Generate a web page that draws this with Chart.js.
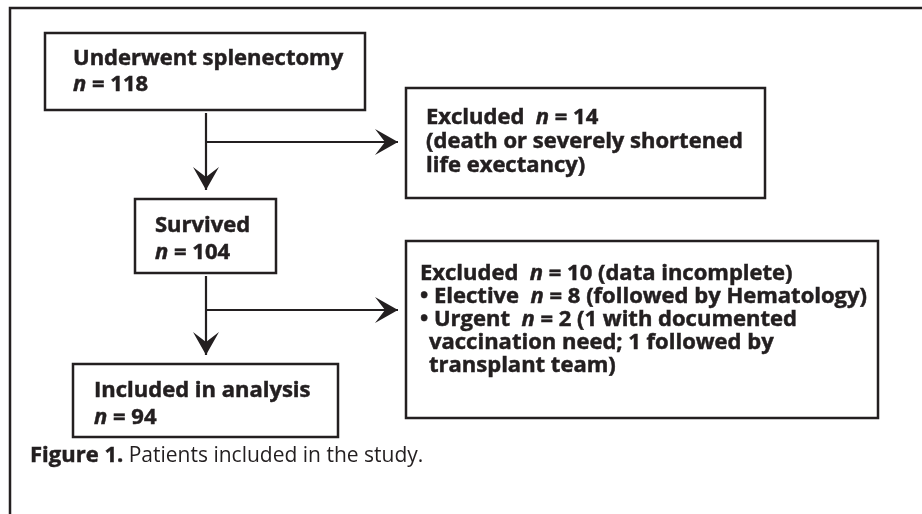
<!DOCTYPE html>
<html>
<head>
<meta charset="utf-8">
<script src="https://cdn.jsdelivr.net/npm/chart.js@4.4.1/dist/chart.umd.min.js"></script>
<style>
  html, body { margin: 0; padding: 0; background: #fff; }
  #wrap { position: relative; width: 922px; height: 514px; }
</style>
</head>
<body>
<div id="wrap"><canvas id="flow"></canvas></div>
<script>
// ---- data ----
const stages = ['Underwent splenectomy', 'Survived', 'Included in analysis'];
const stageCounts = [118, 104, 94];
const excludedCounts = [14, 10];
const excludedReasons = ['(death or severely shortened\nlife exectancy)', '(data incomplete)'];
const subgroupLabels = ['Elective', 'Urgent'];
const subgroupCounts = [8, 2];
const subgroupNotes = ['(followed by Hematology)', '(1 with documented\nvaccination need; 1 followed by\ntransplant team)'];
const captionLabel = 'Figure 1.';
const captionText = ' Patients included in the study.';

// ---- layout (in canvas units, 922 x 514) ----
const layout = {
    stageBoxes: [
        { x0: 45, y0: 33, x1: 365, y1: 110, tx: 73, base: 65, lh: 26 },
        { x0: 135, y0: 199, x1: 276, y1: 273, tx: 155, base: 232, lh: 27 },
        { x0: 73, y0: 364, x1: 338, y1: 437, tx: 94, base: 397, lh: 27 }
    ],
    exclBoxes: [
        { x0: 406, y0: 88, x1: 765, y1: 198, tx: 426, base: 124, lh: 24 },
        { x0: 406, y0: 241, x1: 878, y1: 418, tx: 420, base: 280, lh: 23 }
    ],
    trunkX: 206,
    branchY: [142, 310],
    arrowGap: 8,
    caption: { x: 30, y: 462 },
    frame: { x: 10, y: 8 }
};

const INK = '#231f20';
const FONT = '"Open Sans", "Noto Sans", sans-serif';

function fontFor(style) {
    if (style === 'bi') return 'italic bold 22px ' + FONT;
    if (style === 'b') return 'bold 22px ' + FONT;
    return '21px ' + FONT;
}

// split segments into lines at '\n'; continuation lines get an indent
function richLines(segs, indent) {
    const lines = [[]];
    segs.forEach(([text, style]) => {
        text.split('\n').forEach((part, i) => {
            if (i > 0) lines.push([]);
            if (part) lines[lines.length - 1].push([part, style]);
        });
    });
    return lines.map((l, i) => ({ segs: l, indent: i > 0 ? indent : 0 }));
}

const stageLines = stages.map((s, i) => [
    { segs: [[s, 'b']], indent: 0 },
    { segs: [['n', 'bi'], [' = ' + stageCounts[i], 'b']], indent: 0 }
]);

const exclLines = [
    richLines([['Excluded  ', 'b'], ['n', 'bi'], [' = ' + excludedCounts[0] + '\n' + excludedReasons[0], 'b']], 0),
    [].concat(
        richLines([['Excluded  ', 'b'], ['n', 'bi'], [' = ' + excludedCounts[1] + ' ' + excludedReasons[1], 'b']], 0),
        ...subgroupLabels.map((lab, i) =>
            richLines([['\u2022 ' + lab + '  ', 'b'], ['n', 'bi'], [' = ' + subgroupCounts[i] + ' ' + subgroupNotes[i], 'b']], 9))
    )
];

// connector segments built from box geometry
const connectors = [];
for (let i = 0; i < 2; i++) {
    const top = layout.stageBoxes[i], bot = layout.stageBoxes[i + 1];
    connectors.push({ pts: [{ x: layout.trunkX, y: top.y1 + 3 }, { x: layout.trunkX, y: bot.y0 - layout.arrowGap - 1 }], dir: 'down' });
    connectors.push({ pts: [{ x: layout.trunkX, y: layout.branchY[i] }, { x: layout.exclBoxes[i].x0 - layout.arrowGap, y: layout.branchY[i] }], dir: 'right' });
}

// draw one text run; bold runs get a hairline stroke to look heavier
function drawRun(ctx, t, st, x, y) {
    ctx.font = fontFor(st);
    ctx.fillText(t, x, y);
    if (st !== 'r') {
        ctx.lineWidth = 0.5;
        ctx.strokeText(t, x, y);
    }
    return ctx.measureText(t).width;
}

const drawPlugin = {
    id: 'flowDraw',
    afterDatasetsDraw(chart) {
        const ctx = chart.ctx;
        const sx = chart.scales.x, sy = chart.scales.y;
        const X = v => sx.getPixelForValue(v);
        const Y = v => sy.getPixelForValue(v);
        ctx.save();
        ctx.strokeStyle = INK;
        ctx.fillStyle = INK;

        // outer frame (left and top edges)
        ctx.lineWidth = 2.5;
        ctx.beginPath();
        ctx.moveTo(X(layout.frame.x), Y(514));
        ctx.lineTo(X(layout.frame.x), Y(layout.frame.y));
        ctx.lineTo(X(922), Y(layout.frame.y));
        ctx.stroke();

        // arrowheads
        connectors.forEach(c => {
            const tip = c.pts[1];
            const tx = X(tip.x), ty = Y(tip.y);
            ctx.beginPath();
            if (c.dir === 'down') {
                ctx.moveTo(tx, ty);
                ctx.lineTo(tx - 13, ty - 23);
                ctx.lineTo(tx, ty - 13);
                ctx.lineTo(tx + 13, ty - 23);
            } else {
                ctx.moveTo(tx, ty);
                ctx.lineTo(tx - 23, ty - 13);
                ctx.lineTo(tx - 13, ty);
                ctx.lineTo(tx - 23, ty + 13);
            }
            ctx.closePath();
            ctx.fill();
        });

        // boxes + text
        const boxes = layout.stageBoxes.map((b, i) => [b, stageLines[i]])
            .concat(layout.exclBoxes.map((b, i) => [b, exclLines[i]]));
        ctx.textBaseline = 'alphabetic';
        boxes.forEach(([b, lines]) => {
            ctx.lineWidth = 2.5;
            ctx.fillStyle = '#fff';
            ctx.fillRect(X(b.x0), Y(b.y0), X(b.x1) - X(b.x0), Y(b.y1) - Y(b.y0));
            ctx.strokeRect(X(b.x0), Y(b.y0), X(b.x1) - X(b.x0), Y(b.y1) - Y(b.y0));
            ctx.fillStyle = INK;
            lines.forEach((ln, k) => {
                let x = X(b.tx) + ln.indent;
                const y = Y(b.base + k * b.lh);
                ln.segs.forEach(([t, st]) => {
                    x += drawRun(ctx, t, st, x, y);
                });
            });
        });

        // caption
        let cx = X(layout.caption.x);
        const cy = Y(layout.caption.y);
        cx += drawRun(ctx, captionLabel, 'b', cx, cy);
        drawRun(ctx, captionText, 'r', cx, cy);
        ctx.restore();
    }
};

new Chart(document.getElementById('flow'), {
    type: 'scatter',
    data: {
        datasets: connectors.map(c => ({
            data: c.pts,
            showLine: true,
            borderColor: INK,
            borderWidth: 2.2,
            pointRadius: 0,
            fill: false
        }))
    },
    options: {
        responsive: true,
        maintainAspectRatio: false,
        animation: false,
        layout: { padding: 0 },
        plugins: { legend: { display: false }, tooltip: { enabled: false } },
        scales: {
            x: { type: 'linear', min: 0, max: 922, display: false },
            y: { type: 'linear', min: 0, max: 514, reverse: true, display: false }
        }
    },
    plugins: [drawPlugin]
});
</script>
</body>
</html>
